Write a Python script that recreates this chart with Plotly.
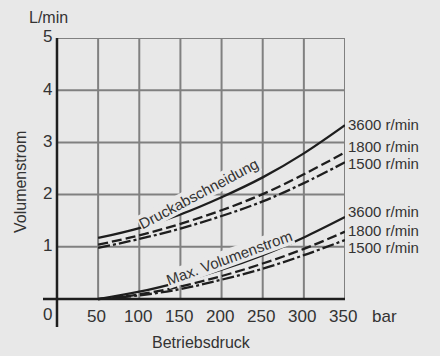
import plotly.graph_objects as go

# Data
pressure = [50, 100, 150, 200, 250, 300, 350]
druck_3600 = [1.17, 1.36, 1.62, 1.95, 2.33, 2.79, 3.33]
druck_1800 = [1.04, 1.22, 1.44, 1.70, 2.01, 2.39, 2.81]
druck_1500 = [0.98, 1.15, 1.35, 1.59, 1.87, 2.22, 2.62]
vol_3600 = [0.0, 0.14, 0.33, 0.56, 0.84, 1.18, 1.57]
vol_1800 = [0.0, 0.09, 0.24, 0.44, 0.68, 0.96, 1.29]
vol_1500 = [0.0, 0.07, 0.19, 0.37, 0.58, 0.84, 1.13]

x_ticks = [50, 100, 150, 200, 250, 300, 350]
y_ticks = [1, 2, 3, 4, 5]
speed_labels = ["3600 r/min", "1800 r/min", "1500 r/min"]

BG = "#e8e8e8"
GRID = "#808080"
INK = "#1e1e1e"
TXT = "#333333"
FONT = "Liberation Sans, Arial, sans-serif"

XMIN, XMAX = -17.0, 350.0
YMIN, YMAX = -0.536, 5.0


def px(xv):
    return (xv - XMIN) / (XMAX - XMIN)


def py(yv):
    return (yv - YMIN) / (YMAX - YMIN)


fig = go.Figure()

styles = [dict(dash="solid"), dict(dash="10px,4px"), dict(dash="12px,3px,3px,3px")]
for ys, st in zip([druck_3600, druck_1800, druck_1500], styles):
    fig.add_trace(go.Scatter(x=pressure, y=ys, mode="lines",
                             line=dict(color=INK, width=2.3, shape="spline", **st),
                             hoverinfo="skip", showlegend=False))
for ys, st in zip([vol_3600, vol_1800, vol_1500], styles):
    fig.add_trace(go.Scatter(x=pressure, y=ys, mode="lines",
                             line=dict(color=INK, width=2.3, shape="spline", **st),
                             hoverinfo="skip", showlegend=False))

shapes = []
for xv in x_ticks:
    shapes.append(dict(type="line", x0=xv, x1=xv, y0=0, y1=y_ticks[-1], xref="x", yref="y",
                       line=dict(color=GRID, width=2), layer="below"))
for yv in y_ticks:
    shapes.append(dict(type="line", x0=0, x1=x_ticks[-1], y0=yv, y1=yv, xref="x", yref="y",
                       line=dict(color=GRID, width=2), layer="below"))
# axis lines
shapes.append(dict(type="line", x0=0, x1=0, y0=YMIN, y1=y_ticks[-1], xref="x", yref="y",
                   line=dict(color=INK, width=2.5)))
shapes.append(dict(type="line", x0=XMIN, x1=x_ticks[-1], y0=0, y1=0, xref="x", yref="y",
                   line=dict(color=INK, width=2.5)))

TF = dict(size=17, color=TXT, family=FONT)
ann = []


def add(x, y, text, font=TF, **kw):
    d = dict(x=x, y=y, text=text, showarrow=False, xref="paper", yref="paper",
             xanchor=kw.pop("xanchor", "center"), yanchor=kw.pop("yanchor", "middle"), font=font)
    d.update(kw)
    ann.append(d)


for xv in x_ticks:
    add(px(xv - 2), py(-0.33), str(xv))
add(px(-11.5), py(-0.30), "0")
for yv in y_ticks:
    add(px(-11.5), py(yv + 0.02), str(yv))
add(px(398), py(-0.33), "bar")

# right-side speed labels
SF = dict(size=15, color=TXT, family=FONT)
upper_y = [3.35, 2.93, 2.60]
lower_y = [1.68, 1.31, 0.98]
for lab, yv in zip(speed_labels, upper_y):
    add(px(352), py(yv), lab, font=SF, xanchor="left", borderpad=0)
for lab, yv in zip(speed_labels, lower_y):
    add(px(352), py(yv), lab, font=SF, xanchor="left", borderpad=0)

LF = dict(size=15, color=TXT, family=FONT)
add(px(172), py(2.03), "Druckabschneidung", font=LF, textangle=-28, bgcolor=BG, borderpad=0)
add(px(210), py(0.79), "Max. Volumenstrom", font=LF, textangle=-20, bgcolor=BG, borderpad=0)

# axis titles (paper coords derived from pixel positions)
AF = dict(size=16, color=TXT, family=FONT)
add((48 - 43) / 302, (327 - 17) / 289, "L/min", font=AF)
add((20 - 43) / 302, (327 - 182) / 289, "Volumenstrom", font=AF, textangle=-90)
add((201 - 43) / 302, (327 - 342) / 289, "Betriebsdruck", font=AF)

fig.update_layout(
    width=440, height=356,
    margin=dict(l=43, r=95, t=38, b=29),
    paper_bgcolor=BG, plot_bgcolor=BG,
    xaxis=dict(range=[XMIN, XMAX], visible=False, fixedrange=True),
    yaxis=dict(range=[YMIN, YMAX], visible=False, fixedrange=True),
    shapes=shapes,
    annotations=ann,
)

fig.write_html("out.html")
